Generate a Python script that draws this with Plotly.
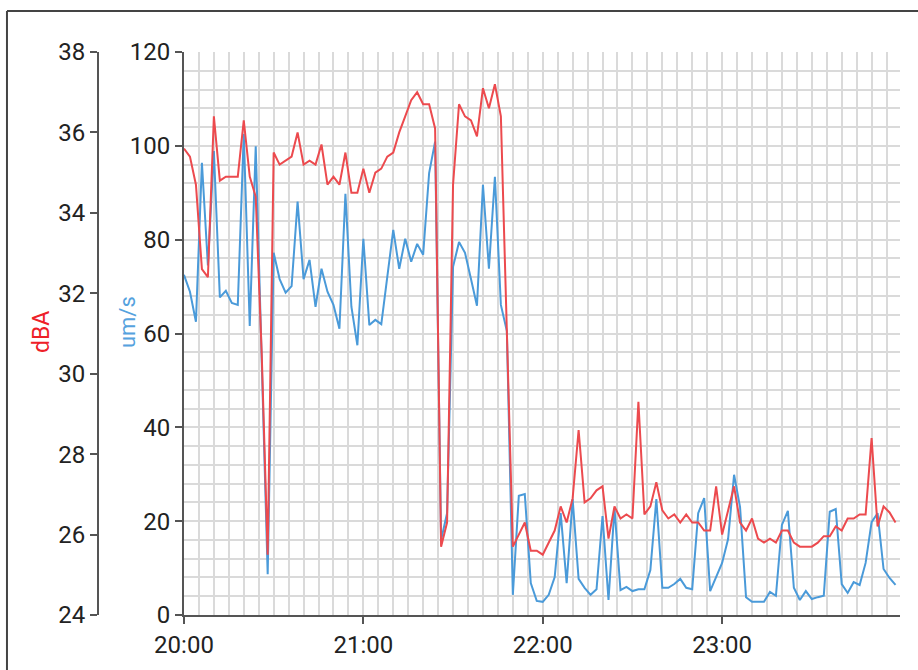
import pandas as pd
import plotly.graph_objects as go

# sample times: every 2 minutes from 20:00
start_time = "2021-01-01 20:00:00"
sample_step = "2min"

# dBA (red)
dba = [35.6, 35.4, 34.7, 32.6, 32.4, 36.4, 34.8, 34.9, 34.9, 34.9,
       36.3, 34.9, 34.4, 30.5, 25.5, 35.5, 35.2, 35.3, 35.4, 36.0,
       35.2, 35.3, 35.2, 35.7, 34.7, 34.9, 34.7, 35.5, 34.5, 34.5,
       35.1, 34.5, 35.0, 35.1, 35.4, 35.5, 36.0, 36.4, 36.8, 37.0,
       36.7, 36.7, 36.1, 25.7, 26.3, 34.7, 36.7, 36.4, 36.3, 35.9,
       37.1, 36.6, 37.2, 36.4, 31.0, 25.7, 26.0, 26.3, 25.6, 25.6,
       25.5, 25.8, 26.1, 26.7, 26.3, 26.9, 28.6, 26.8, 26.9, 27.1,
       27.2, 25.9, 26.7, 26.4, 26.5, 26.4, 29.3, 26.5, 26.7, 27.3,
       26.6, 26.4, 26.5, 26.3, 26.5, 26.3, 26.3, 26.1, 26.1, 27.2,
       26.0, 26.6, 27.2, 26.3, 26.1, 26.4, 25.9, 25.8, 25.9, 25.8,
       26.1, 26.1, 25.8, 25.7, 25.7, 25.7, 25.8, 25.96, 25.96, 26.2,
       26.1, 26.4, 26.4, 26.5, 26.5, 28.4, 26.2, 26.7, 26.55, 26.3]

# um/s (blue)
ums = [72.5, 68.9, 62.5, 96.4, 74.5, 98.9, 67.7, 69.1, 66.5, 66.1,
       102.5, 61.6, 99.9, 54.0, 8.7, 77.2, 71.6, 68.7, 70.1, 88.1,
       71.6, 75.7, 65.7, 73.8, 68.9, 66.1, 61.0, 89.8, 65.7, 57.5,
       80.2, 61.8, 62.9, 62.0, 72.1, 82.1, 73.8, 80.2, 75.3, 79.1,
       76.8, 94.2, 100.9, 16.0, 21.7, 74.2, 79.5, 77.2, 71.6, 65.9,
       91.7, 73.8, 93.4, 66.1, 60.5, 4.3, 25.4, 25.8, 6.8, 3.0,
       2.8, 4.3, 8.1, 21.7, 6.8, 24.7, 7.7, 5.8, 4.3, 5.5,
       21.1, 3.2, 22.8, 5.3, 6.0, 5.1, 5.5, 5.5, 9.6, 24.7,
       5.8, 5.8, 6.6, 7.7, 5.8, 5.5, 21.7, 24.9, 5.1, 8.1,
       11.1, 16.2, 29.9, 23.0, 3.8, 2.8, 2.8, 2.8, 4.9, 4.1,
       19.2, 22.2, 5.8, 3.2, 5.1, 3.4, 3.8, 4.1, 22.0, 22.6,
       6.6, 4.7, 7.0, 6.4, 11.1, 19.8, 21.7, 9.8, 7.9, 6.4]

dba_ticks = [24, 26, 28, 30, 32, 34, 36, 38]
ums_ticks = [0, 20, 40, 60, 80, 100, 120]
x_ticks = ["2021-01-01 20:00:00", "2021-01-01 21:00:00",
           "2021-01-01 22:00:00", "2021-01-01 23:00:00"]
x_tick_labels = ["20:00", "21:00", "22:00", "23:00"]

times = pd.date_range(start_time, periods=len(ums), freq=sample_step)

RED = "#ec4a4e"
BLUE = "#4a9ad9"
AXIS = "#555555"
GRID = "#dadada"
TICKFONT = dict(family="Roboto", size=24, color="#222222")

fig = go.Figure()
fig.add_trace(go.Scatter(x=times, y=ums, mode="lines", line=dict(color=BLUE, width=2),
                         yaxis="y", showlegend=False, hoverinfo="skip"))
fig.add_trace(go.Scatter(x=times, y=dba, mode="lines", line=dict(color=RED, width=2),
                         yaxis="y2", showlegend=False, hoverinfo="skip"))

fig.update_layout(
    width=918, height=670,
    margin=dict(l=98, r=18, t=52, b=55),
    paper_bgcolor="white", plot_bgcolor="white",
    xaxis=dict(
        domain=[0.1072, 1], automargin=False,
        range=["2021-01-01 20:00:00", "2021-01-01 23:59:30"],
        tickvals=x_ticks, ticktext=x_tick_labels,
        showgrid=True, gridcolor=GRID, gridwidth=1.5,
        minor=dict(dtick=300000, showgrid=True, gridcolor=GRID, gridwidth=1.5),
        showline=True, linecolor=AXIS, linewidth=2,
        ticks="outside", ticklen=7, tickcolor=AXIS, tickwidth=2,
        tickfont=TICKFONT, zeroline=False,
    ),
    yaxis=dict(
        range=[0, 120], tickvals=ums_ticks, automargin=False,
        showgrid=True, gridcolor=GRID, gridwidth=1.5,
        minor=dict(dtick=4, showgrid=True, gridcolor=GRID, gridwidth=1.5),
        showline=True, linecolor=AXIS, linewidth=2,
        ticks="outside", ticklen=7, tickcolor=AXIS, tickwidth=2,
        tickfont=TICKFONT, zeroline=False,
    ),
    yaxis2=dict(
        range=[24, 38], tickvals=dba_ticks, automargin=False,
        overlaying="y", side="left", anchor="free", position=0,
        showgrid=False, showline=True, linecolor=AXIS, linewidth=2,
        ticks="outside", ticklen=7, tickcolor=AXIS, tickwidth=2,
        tickfont=TICKFONT, zeroline=False,
    ),
    annotations=[
        dict(text="dBA", xref="paper", yref="paper", x=-0.0698, y=0.5027,
             textangle=-90, showarrow=False, font=dict(family="Roboto", size=23, color="#ee2028"),
             xanchor="center", yanchor="middle"),
        dict(text="um/s", xref="paper", yref="paper", x=0.0362, y=0.5204,
             textangle=-90, showarrow=False, font=dict(family="Roboto", size=22, color="#55a2de"),
             xanchor="center", yanchor="middle"),
    ],
    shapes=[
        dict(type="line", xref="paper", yref="paper", x0=-0.1135, x1=1.1, y0=1.0728, y1=1.0728,
             line=dict(color="#444444", width=2)),
        dict(type="line", xref="paper", yref="paper", x0=-0.1135, x1=-0.1135, y0=1.0728, y1=-0.2,
             line=dict(color="#444444", width=2)),
    ],
)

fig.write_html("out.html")
